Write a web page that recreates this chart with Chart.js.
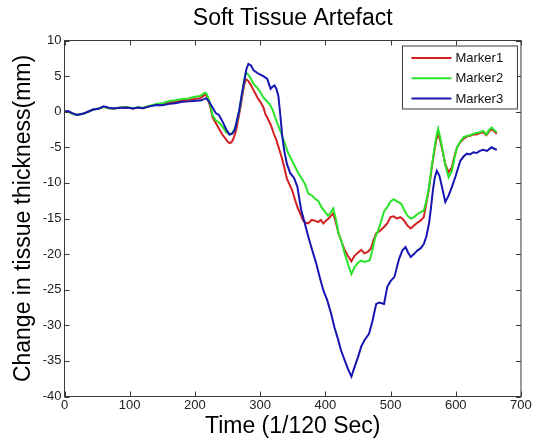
<!DOCTYPE html>
<html>
<head>
<meta charset="utf-8">
<title>Soft Tissue Artefact</title>
<script src="https://cdn.jsdelivr.net/npm/chart.js@4.4.0/dist/chart.umd.min.js"></script>
<style>
  body { margin: 0; background: #fff; }
  canvas { display: block; }
</style>
</head>
<body>
<canvas id="staChart" width="533" height="445"></canvas>
<script>
// values, time in 1/120 s, change in mm
const seriesNames = ["Marker1", "Marker2", "Marker3"];

const m1Time = [0,5,12,19,28,36,44,52,60,68,75,85,95,105,113,120,130,141,150,161,170,181,190,200,208,214,217,220,224,227,232,237,242,247,250,253,256,259,262,265,268,272,275,278,282,286,290,293,297,301,305,308,313,317,321,325,329,333,337,341,345,349,354,358,362,366,370,374,379,384,389,393,397,401,405,409,412,416,420,425,430,435,440,445,450,455,460,465,470,474,478,483,490,495,500,505,510,515,520,526,531,536,541,546,551,555,559,563,567,570,573,576,579,584,589,594,598,602,607,612,617,622,627,632,637,642,647,651,655,659,663];
const m1Change = [0,0.05,-0.25,-0.45,-0.3,0,0.3,0.4,0.7,0.5,0.45,0.55,0.6,0.45,0.6,0.5,0.75,1.0,1.0,1.3,1.4,1.6,1.65,1.8,1.9,2.3,2.4,1.8,0.5,-0.8,-1.6,-2.4,-3.2,-3.8,-4.2,-4.4,-4.3,-3.8,-3.0,-1.8,-0.3,1.8,3.5,4.6,4.3,3.7,3.0,2.5,1.8,1.3,0.6,-0.3,-1.2,-2.0,-3.1,-4.0,-5.2,-6.4,-7.8,-9.4,-10.2,-11.0,-12.5,-13.6,-14.4,-15.3,-15.6,-15.7,-15.2,-15.3,-15.5,-15.2,-15.7,-15.3,-15.0,-14.6,-14.3,-15.5,-17.0,-18.3,-19.5,-20.3,-21.0,-20.2,-19.8,-19.4,-19.9,-19.7,-19.2,-18.0,-17.1,-16.8,-16.2,-15.7,-14.8,-14.7,-15.0,-14.8,-15.2,-16.0,-16.4,-16.0,-15.6,-15.3,-14.8,-12.8,-10.8,-8.0,-5.6,-4.0,-3.1,-4.0,-5.2,-7.4,-8.5,-7.8,-6.3,-5.0,-4.3,-3.8,-3.5,-3.4,-3.2,-3.2,-3.0,-2.9,-3.3,-2.8,-2.4,-2.8,-3.1];

const m2Time = [0,5,12,19,28,36,44,52,60,68,75,85,95,105,113,120,130,141,150,161,170,181,190,200,208,214,217,220,224,227,232,237,243,248,253,257,261,265,268,272,275,278,282,286,290,295,300,305,310,315,319,323,328,333,338,343,348,354,359,364,369,374,380,385,389,394,399,404,408,412,416,420,425,430,435,440,445,450,455,460,468,472,476,480,485,490,495,500,505,510,516,521,526,531,536,541,546,551,555,559,563,567,570,573,576,579,584,589,594,598,602,607,612,617,622,627,632,637,642,647,651,655,659,663];
const m2Change = [0,0,-0.3,-0.45,-0.3,0,0.3,0.45,0.7,0.5,0.45,0.55,0.65,0.5,0.6,0.55,0.8,1.1,1.2,1.5,1.6,1.8,1.85,2.1,2.2,2.6,2.65,2.1,0.8,-0.5,-1.2,-1.5,-2.2,-2.9,-3.2,-3.0,-2.4,-1.2,0.2,2.3,4.0,5.5,5.2,4.6,3.9,3.4,2.8,2.0,1.5,1.0,0.3,-0.8,-2.0,-3.2,-4.5,-5.8,-6.7,-7.8,-8.7,-9.4,-10.2,-11.5,-11.8,-12.3,-12.5,-13.4,-14.0,-14.6,-14.2,-13.6,-15.0,-17.0,-18.3,-20.0,-21.5,-22.8,-21.8,-21.2,-20.9,-21.1,-20.9,-19.5,-17.8,-16.9,-15.6,-14.0,-13.4,-12.6,-12.3,-12.6,-12.9,-13.8,-14.6,-15.0,-14.8,-14.4,-14.1,-13.9,-12.5,-10.6,-7.8,-5.4,-3.6,-2.4,-3.6,-5.0,-7.5,-9.2,-8.3,-6.5,-5.0,-4.2,-3.6,-3.4,-3.3,-3.1,-3.0,-2.9,-2.7,-3.2,-2.6,-2.2,-2.6,-2.9];

const m3Time = [0,5,12,19,28,36,44,52,60,68,75,85,95,105,113,120,130,141,150,161,170,181,190,202,210,217,222,227,232,237,243,248,253,257,261,265,268,272,276,279,282,286,290,298,305,311,316,319,322,325,328,331,334,337,341,346,352,357,363,368,374,380,386,391,397,403,409,414,419,424,430,435,440,445,450,455,460,467,472,478,483,490,495,500,506,513,518,523,527,531,536,541,546,551,555,559,562,565,568,571,575,579,584,589,594,600,607,612,617,622,627,632,637,642,648,655,659,663];
const m3Change = [0,0.1,-0.2,-0.45,-0.3,0,0.3,0.4,0.75,0.55,0.45,0.55,0.6,0.45,0.6,0.5,0.75,0.95,0.9,1.1,1.2,1.4,1.45,1.55,1.6,1.9,1.4,0.6,-0.2,-0.5,-1.5,-2.5,-3.2,-3.1,-2.6,-1.0,0.2,2.5,4.5,6.0,6.7,6.5,5.8,5.3,5.0,4.6,3.2,3.5,3.7,3.2,2.2,-0.5,-3.5,-5.5,-7.3,-8.6,-9.3,-10.5,-13.8,-15.5,-17.6,-19.5,-21.3,-23.1,-25.1,-26.5,-28.4,-30.3,-31.8,-33.5,-35.0,-36.2,-37.2,-35.8,-34.5,-33.0,-32.1,-31.2,-29.5,-27.0,-26.8,-27.0,-24.6,-23.8,-23.2,-20.7,-19.5,-19.0,-19.8,-20.4,-20.0,-19.5,-19.2,-18.6,-17.5,-15.7,-13.5,-11.0,-9.2,-8.3,-9.0,-10.6,-12.7,-11.8,-10.6,-9.0,-6.9,-6.3,-5.9,-6.0,-5.7,-5.8,-5.5,-5.35,-5.5,-5.0,-5.2,-5.35];

const xMin = 0, xMax = 700, xStep = 100;
const yMin = -40, yMax = 10, yStep = 5;

const lineColors = ["rgb(210,32,32)", "rgb(40,228,40)", "rgb(22,22,178)"];

function toPoints(times, values) {
  return times.map((t, i) => ({ x: t, y: values[i] }));
}

const FONT = "'Liberation Sans', Arial, sans-serif";

// matlab style box with inward ticks on all four sides
const boxPlugin = {
  id: "boxPlugin",
  afterDatasetsDraw(chart) {
    const ctx = chart.ctx;
    const a = chart.chartArea;
    const xs = chart.scales.x;
    const ys = chart.scales.y;
    ctx.save();
    ctx.strokeStyle = "#3a3a3a";
    ctx.lineWidth = 1;
    ctx.beginPath();
    xs.ticks.forEach((t) => {
      const px = Math.round(xs.getPixelForValue(t.value)) + 0.5;
      ctx.moveTo(px, a.bottom); ctx.lineTo(px, a.bottom - 5);
      ctx.moveTo(px, a.top); ctx.lineTo(px, a.top + 5);
    });
    ys.ticks.forEach((t) => {
      const py = Math.round(ys.getPixelForValue(t.value)) + 0.5;
      ctx.moveTo(a.left, py); ctx.lineTo(a.left + 5, py);
      ctx.moveTo(a.right, py); ctx.lineTo(a.right - 5, py);
    });
    ctx.stroke();
    ctx.strokeRect(a.left, a.top, a.right - a.left, a.bottom - a.top);
    ctx.restore();
  },
  afterDraw(chart) {
    // legend box in the top right corner of the axes
    const ctx = chart.ctx;
    const a = chart.chartArea;
    const bx = a.right - 118.5, by = a.top + 5.5, bw = 115, bh = 63;
    ctx.save();
    ctx.fillStyle = "#fff";
    ctx.fillRect(bx, by, bw, bh);
    ctx.strokeStyle = "#3a3a3a";
    ctx.lineWidth = 1;
    ctx.strokeRect(bx, by, bw, bh);
    ctx.font = "13px " + FONT;
    ctx.textBaseline = "middle";
    ctx.fillStyle = "#111";
    chart.data.datasets.forEach((ds, i) => {
      const ly = by + 12 + i * 20.3;
      ctx.strokeStyle = ds.borderColor;
      ctx.lineWidth = 2;
      ctx.beginPath();
      ctx.moveTo(bx + 9, ly);
      ctx.lineTo(bx + 49, ly);
      ctx.stroke();
      ctx.fillText(ds.label, bx + 53, ly + 0.5);
    });
    ctx.restore();
  }
};

const data_sta = {
  datasets: [
    { label: seriesNames[0], data: toPoints(m1Time, m1Change), borderColor: lineColors[0], order: 2 },
    { label: seriesNames[1], data: toPoints(m2Time, m2Change), borderColor: lineColors[1], order: 1 },
    { label: seriesNames[2], data: toPoints(m3Time, m3Change), borderColor: lineColors[2], order: 0 },
  ],
};

const config_sta = {
  type: "line",
  data: data_sta,
  options: {
    responsive: false,
    animation: false,
    parsing: true,
    layout: { padding: { left: 0, right: 8.5, top: 0, bottom: 0 } },
    elements: {
      line: { borderWidth: 2, tension: 0, fill: false },
      point: { radius: 0 },
    },
    plugins: {
      legend: { display: false },
      tooltip: { enabled: false },
      title: {
        display: true,
        text: "Soft Tissue Artefact",
        fullSize: false,
        color: "#000",
        font: { family: FONT, size: 23, weight: "normal", lineHeight: 1.2 },
        padding: { top: 4.7, bottom: 8.2 },
      },
    },
    scales: {
      x: {
        type: "linear",
        min: xMin,
        max: xMax,
        grid: { display: false, drawTicks: false },
        border: { display: false },
        ticks: { stepSize: xStep, padding: 1.2, color: "#222", font: { family: FONT, size: 13 } },
        title: {
          display: true,
          text: "Time (1/120 Sec)",
          color: "#000",
          font: { family: FONT, size: 23, lineHeight: 1.2 },
          padding: { top: 0, bottom: 4.4 },
        },
        afterFit(scale) { scale.height = 48.5; },
      },
      y: {
        type: "linear",
        min: yMin,
        max: yMax,
        grid: { display: false, drawTicks: false },
        border: { display: false },
        ticks: { stepSize: yStep, padding: 3, color: "#222", font: { family: FONT, size: 13 } },
        title: {
          display: true,
          text: "Change in tissue thickness(mm)",
          color: "#000",
          font: { family: FONT, size: 23, lineHeight: 1.2 },
          padding: { top: 10.2, bottom: 0 },
        },
        afterFit(scale) { scale.width = 64.5; },
      },
    },
  },
  plugins: [boxPlugin],
};

const staChart = new Chart(document.getElementById("staChart"), config_sta);
</script>
</body>
</html>
